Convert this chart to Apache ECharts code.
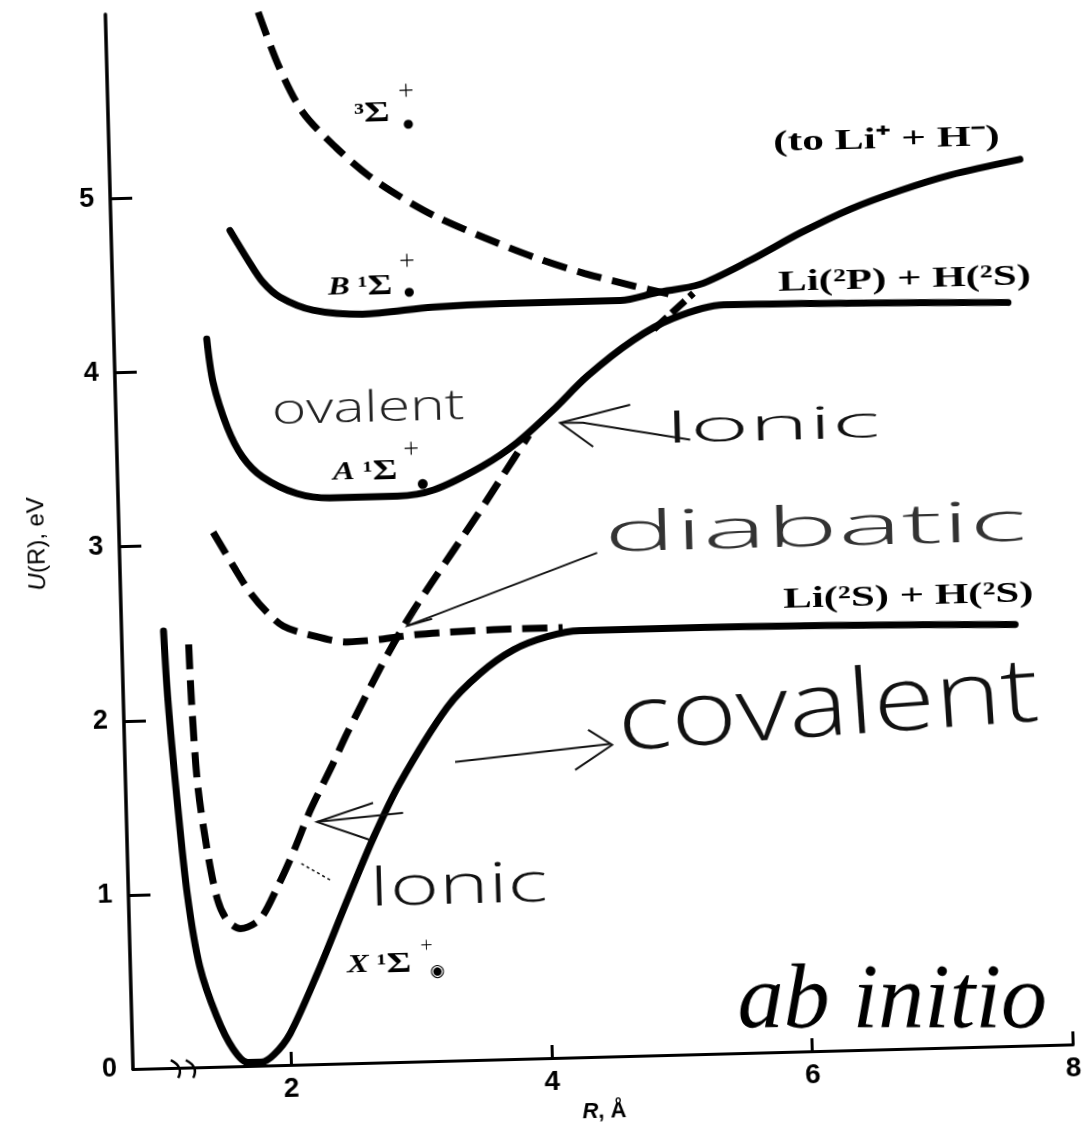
<!DOCTYPE html>
<html><head><meta charset="utf-8">
<script src="https://cdn.jsdelivr.net/npm/echarts@6/dist/echarts.min.js"></script>
<style>
html,body{margin:0;padding:0;background:#fff;overflow:hidden;width:1082px;height:1139px}
#chart{position:absolute;left:0;top:0;width:1120px;height:1180px;transform:rotate(-1.5deg);transform-origin:133px 1069px;}
</style></head><body><div id="chart"></div>
<script>
// ---- tick labels ----
const xTicks = [2, 4, 6, 8];
const yTicks = [0, 1, 2, 3, 4, 5];

// ---- curves: R (Å) and U(R) (eV) ----
// X 1Σ+ ground state (solid)
const X_R = [1.11, 1.13, 1.18, 1.24, 1.32, 1.44, 1.56, 1.67, 1.77, 1.87, 2.00, 2.22, 2.46, 2.67, 2.89, 3.27, 3.53, 3.79, 4.05, 4.30, 5.23, 6.38, 7.64];
const X_U = [2.51, 2.11, 1.54, 0.99, 0.58, 0.29, 0.10, 0.02, 0.02, 0.06, 0.18, 0.52, 0.93, 1.28, 1.60, 2.03, 2.22, 2.35, 2.42, 2.45, 2.45, 2.44, 2.42];
// A 1Σ+ (solid)
const A_R = [1.50, 1.54, 1.64, 1.75, 1.90, 2.16, 2.41, 2.70, 2.93, 3.21, 3.59, 3.86, 4.14, 4.41, 4.77, 5.08, 5.47, 6.45, 7.65];
const A_U = [4.18, 3.93, 3.67, 3.50, 3.38, 3.28, 3.25, 3.25, 3.25, 3.28, 3.41, 3.54, 3.72, 3.91, 4.11, 4.23, 4.30, 4.29, 4.27];
// B 1Σ+ (solid), continuing to Li+ + H-
const B_R = [1.70, 1.83, 1.94, 2.07, 2.32, 2.70, 3.24, 3.76, 4.27, 4.68, 4.96, 5.29, 5.68, 6.07, 6.46, 6.85, 7.23, 7.77];
const B_U = [4.80, 4.63, 4.50, 4.41, 4.33, 4.30, 4.33, 4.34, 4.34, 4.34, 4.38, 4.42, 4.55, 4.70, 4.83, 4.93, 5.01, 5.09];
// 3Σ+ (dashed)
const T_R = [1.96, 2.11, 2.28, 2.53, 2.78, 3.03, 3.28, 3.65, 4.03, 4.41, 4.79, 5.05];
const T_U = [6.05, 5.73, 5.47, 5.26, 5.09, 4.96, 4.85, 4.72, 4.60, 4.50, 4.42, 4.37];
// diabatic ionic (dashed)
const I_R = [1.30, 1.31, 1.34, 1.40, 1.47, 1.54, 1.64, 1.79, 1.93, 2.06, 2.20, 2.38, 2.50, 2.76, 2.95, 3.14, 3.35, 3.54, 3.75, 3.95];
const I_U = [2.43, 2.11, 1.63, 1.25, 0.96, 0.84, 0.79, 0.84, 1.02, 1.22, 1.46, 1.72, 1.90, 2.26, 2.50, 2.71, 2.93, 3.13, 3.36, 3.58];
// diabatic ionic, short piece at the upper crossing (dashed)
const I2_R = [4.93, 5.24];
const I2_U = [4.17, 4.37];
// diabatic covalent (dashed)
const C_R = [1.51, 1.66, 1.78, 1.91, 2.03, 2.21, 2.52, 2.77, 3.02, 3.28, 3.79, 4.17];
const C_U = [3.07, 2.87, 2.72, 2.60, 2.52, 2.47, 2.42, 2.43, 2.45, 2.46, 2.47, 2.47];

const zip = (r, u) => r.map((v, i) => [v, u[i]]);
const S = Math.sin(1.5 * Math.PI / 180);
// page position -> chart frame (the chart frame is turned like the scanned page)
function P(x, y) { const a = x - 133, h = 1069 - y; return [133 + a + S * h, 1069 - (h - S * a)]; }

const solid = { color: '#000', width: 7, cap: 'round', join: 'round' };
const dashed = { color: '#000', width: 7, type: [25, 11], cap: 'butt' };
function line(name, r, u, st, sm) {
  return { name, type: 'line', data: zip(r, u), showSymbol: false, smooth: sm == null ? 0.3 : sm,
    lineStyle: st, itemStyle: { color: '#000' }, silent: true, z: 3 };
}

const serif = 'Liberation Serif';
const hand = 'Open Sans';
function T(x, y, text, st, el) {
  const p = P(x, y);
  return Object.assign({ type: 'text', x: p[0], y: p[1], z: 50,
    style: Object.assign({ text, fill: '#000', textAlign: 'left', align: 'left', textVerticalAlign: 'middle', verticalAlign: 'middle' }, st) },
    el || {});
}
function TC(x, y, text, st, el) {
  return T(x, y, text, Object.assign({ textAlign: 'center', align: 'center' }, st), el);
}
function PL(pts, w, dash) {
  return { type: 'polyline', z: 50, shape: { points: pts.map(q => P(q[0], q[1])) },
    style: { stroke: '#111', lineWidth: w || 2, fill: null, lineDash: dash || null } };
}
function brk(x, y) {
  const p = P(x, y);
  return { type: 'bezierCurve', z: 50, shape: { x1: p[0] - 4, y1: p[1] - 9, x2: p[0] + 3, y2: p[1] + 9, cpx1: p[0] + 9, cpy1: p[1] - 2 },
    style: { stroke: '#000', lineWidth: 2.5, fill: null } };
}

const lab = { fontFamily: serif, fontWeight: 'bold', fontSize: 30 };
const richTerm = {
  i: { fontFamily: serif, fontStyle: 'italic', fontWeight: 'bold', fontSize: 25 },
  n: { fontFamily: serif, fontWeight: 'bold', fontSize: 25 },
  g: { fontFamily: serif, fontWeight: 'bold', fontSize: 29 }
};
const plus = { fontFamily: hand, fontWeight: 300, fontSize: 28 };
const blob = { fontFamily: 'DejaVu Sans', fontSize: 12 };
const handSt = (size, fill) => ({ fontFamily: hand, fontWeight: 300, fontSize: size, fill: fill || '#111' });

const graphics = [
  T(354, 115, '{n|³}{g|Σ}', { rich: richTerm }, { scaleX: 1.35 }),
  T(398, 92, '+', plus),
  T(403, 125, '●', blob),
  T(328, 288, '{i|B}{n| ¹}{g|Σ}', { rich: richTerm }, { scaleX: 1.3 }),
  T(399, 262, '+', plus),
  T(404, 293, '●', blob),
  T(333, 473, '{i|A}{n| ¹}{g|Σ}', { rich: richTerm }, { scaleX: 1.3 }),
  T(403, 450, '+', plus),
  T(417, 484, '●', Object.assign({}, blob, { fontSize: 13 })),
  T(347, 966, '{i|X}{n| ¹}{g|Σ}', { rich: richTerm }, { scaleX: 1.3 }),
  T(420, 946, '+', Object.assign({}, plus, { fontSize: 22 })),
  T(430, 972, '◉', { fontFamily: 'DejaVu Sans', fontSize: 17 }),
  T(773, 143, '(to Li⁺ + H⁻)', lab, { scaleX: 1.45 }),
  T(778, 283, 'Li(²P) + H(²S)', lab, { scaleX: 1.43 }),
  T(783, 600, 'Li(²S) + H(²S)', lab, { scaleX: 1.43 }),
  // handwritten notes
  TC(368, 410, 'ovalent', handSt(42, '#222'), { scaleX: 1.4 }),
  TC(772, 428, 'Ionic', handSt(44), { scaleX: 2.3 }),
  TC(815, 530, 'diabatic', handSt(56, '#333'), { scaleX: 2.15 }),
  TC(828, 710, 'covalent', handSt(90), { scaleX: 1.25, rotation: 0.045 }),
  TC(458, 888, 'Ionic', handSt(56), { scaleX: 1.5 }),
  PL([[690, 440], [583, 423], [560, 423]]),
  PL([[630, 405], [560, 423], [593, 447]]),
  PL([[597, 553], [407, 626]]),
  PL([[419, 606], [407, 626], [432, 619]]),
  PL([[455, 762], [610, 744]]),
  PL([[588, 730], [612, 745], [575, 770]]),
  PL([[403, 813], [317, 822]]),
  PL([[373, 803], [317, 822], [370, 840]]),
  PL([[330, 880], [300, 863]], 1.5, [3, 3]),
  brk(175, 1069), brk(190, 1069),
  TC(892, 1003, 'ab initio', { fontFamily: serif, fontStyle: 'italic', fontSize: 92 }, { rotation: -1.5 * Math.PI / 180 })
];

const chart = echarts.init(document.getElementById('chart'), null, { renderer: 'canvas' });
chart.setOption({
  animation: false,
  backgroundColor: '#fff',
  grid: { left: 133, top: 14, right: 46.6, bottom: 111, containLabel: false, outerBoundsMode: 'none' },
  xAxis: {
    type: 'value', min: 0.788, max: 8,
    name: '{i|R}{n|, Å}', nameLocation: 'middle', nameGap: 44,
    nameTextStyle: { rich: {
      i: { fontStyle: 'italic', fontWeight: 'bold', fontSize: 22, fontFamily: 'Liberation Sans', color: '#000' },
      n: { fontWeight: 'bold', fontSize: 22, fontFamily: 'Liberation Sans', color: '#000' } } },
    axisLine: { onZero: false, lineStyle: { color: '#000', width: 3 } },
    axisTick: { inside: true, length: 13, customValues: xTicks, lineStyle: { color: '#000', width: 3 } },
    axisLabel: { customValues: xTicks, color: '#000', fontSize: 28, fontWeight: 'bold', fontFamily: 'Liberation Sans', margin: 10 },
    splitLine: { show: false }
  },
  yAxis: {
    type: 'value', min: 0, max: 6.06,
    name: '{i|U}{n|(R), eV}', nameLocation: 'middle', nameGap: 70, nameRotate: 90,
    nameTextStyle: { rich: {
      i: { fontStyle: 'italic', fontSize: 24, fontFamily: 'Liberation Sans', color: '#000' },
      n: { fontSize: 24, fontFamily: 'Liberation Sans', color: '#000' } } },
    axisLine: { onZero: false, lineStyle: { color: '#000', width: 3.5 } },
    axisTick: { inside: true, length: 22, customValues: yTicks, lineStyle: { color: '#000', width: 3 } },
    axisLabel: { customValues: yTicks, color: '#000', fontSize: 27, fontWeight: 'bold', fontFamily: 'Liberation Sans', margin: 16 },
    splitLine: { show: false }
  },
  series: [
    line('X1Σ+', X_R, X_U, solid),
    line('A1Σ+', A_R, A_U, solid),
    line('B1Σ+', B_R, B_U, solid),
    line('3Σ+', T_R, T_U, dashed),
    line('ionic diabatic', I_R, I_U, dashed),
    line('ionic diabatic (crossing)', I2_R, I2_U, Object.assign({}, dashed, { type: [18, 6] }), 0),
    line('covalent diabatic', C_R, C_U, dashed)
  ],
  graphic: graphics
});
</script></body></html>
